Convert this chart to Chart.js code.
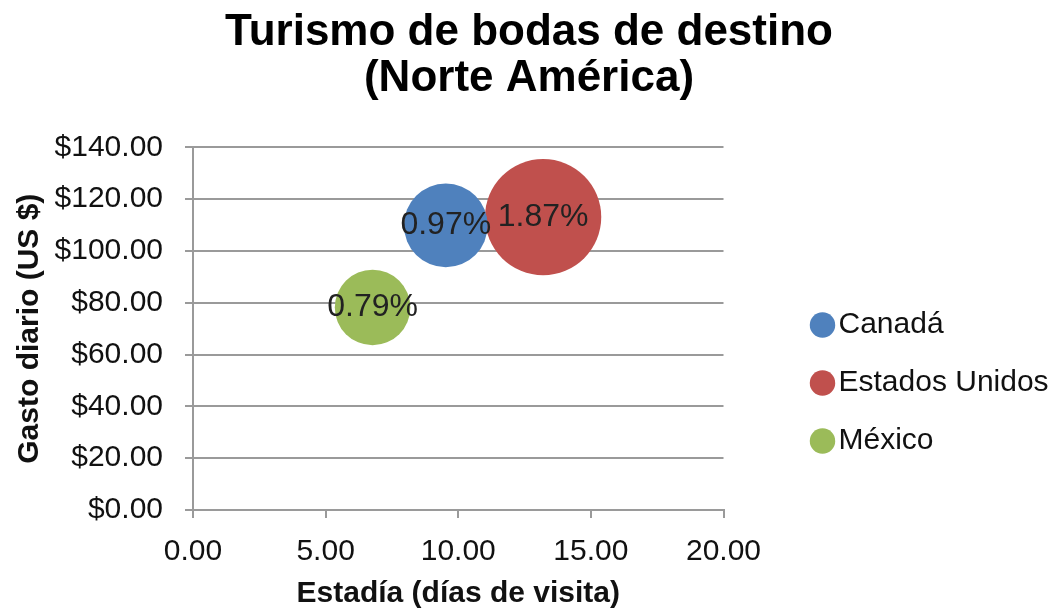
<!DOCTYPE html>
<html lang="es">
<head>
  <meta charset="UTF-8" />
  <title>Turismo de bodas de destino</title>
  <script src="https://cdn.jsdelivr.net/npm/chart.js"></script>
  <style>
    body { margin: 0; background: white; }
    #wrap { width: 1058px; height: 612px; }
  </style>
</head>
<body>
  <div id="wrap"><canvas id="bodasChart" width="1058" height="612"></canvas></div>

  <script>
    // datos
    const countries = ['Canadá', 'Estados Unidos', 'México'];
    const stayDays = [9.53, 13.2, 6.77];
    const dailySpend = [109.9, 113.1, 78.2];
    const share = [0.97, 1.87, 0.79];
    const colors = ['#4F81BD', '#C0504D', '#9BBB59'];
    const xTicks = [0, 5, 10, 15, 20];
    const yTicks = [0, 20, 40, 60, 80, 100, 120, 140];

    const BUBBLE_K = 42.5; // radio ~ raíz del valor (área)
    const FONT = "'Liberation Sans', Arial, sans-serif";
    const LEGEND_GAP = 70;

    // etiquetas de porcentaje centradas en cada burbuja
    const bubbleLabels = {
      id: 'bubbleLabels',
      afterDatasetsDraw(chart) {
        const c = chart.ctx;
        c.save();
        c.font = '32px ' + FONT;
        c.fillStyle = '#222';
        c.textAlign = 'center';
        c.textBaseline = 'middle';
        chart.data.datasets.forEach((ds, i) => {
          const pt = chart.getDatasetMeta(i).data[0];
          c.fillText(share[i].toFixed(2) + '%', pt.x, pt.y);
        });
        c.restore();
      }
    };

    // la leyenda deja un hueco a su izquierda y va algo más abajo
    const legendShift = {
      id: 'legendShift',
      afterInit(chart) {
        const lg = chart.legend;
        const fit = lg.fit.bind(lg);
        const draw = lg.draw.bind(lg);
        lg.fit = function () {
          fit();
          this.width += LEGEND_GAP;
        };
        lg.draw = function (area) {
          chart.ctx.save();
          chart.ctx.translate(LEGEND_GAP, 77);
          draw(area);
          chart.ctx.restore();
        };
      }
    };

    const ctx = document.getElementById('bodasChart').getContext('2d');
    new Chart(ctx, {
      type: 'bubble',
      data: {
        datasets: countries.map((name, i) => ({
          label: name,
          data: [{ x: stayDays[i], y: dailySpend[i], r: BUBBLE_K * Math.sqrt(share[i]) }],
          backgroundColor: colors[i],
          borderColor: colors[i],
          borderWidth: 0,
          hoverRadius: 0
        }))
      },
      options: {
        responsive: false,
        animation: false,
        layout: { padding: 0 },
        plugins: {
          tooltip: { enabled: false },
          title: {
            display: true,
            text: ['Turismo de bodas de destino', '(Norte América)'],
            color: '#000',
            font: { family: FONT, size: 44, weight: 'bold', lineHeight: 1.05 },
            padding: { top: 10, bottom: 45 }
          },
          legend: {
            position: 'right',
            labels: {
              usePointStyle: true,
              pointStyle: 'circle',
              boxWidth: 2,
              boxHeight: 18,
              padding: 28,
              color: '#111',
              font: { family: FONT, size: 30 }
            }
          }
        },
        scales: {
          x: {
            type: 'linear',
            min: 0,
            max: 20,
            afterBuildTicks: s => { s.ticks = xTicks.map(v => ({ value: v })); },
            afterFit: s => { s.height = 102; },
            ticks: {
              color: '#111',
              font: { family: FONT, size: 30 },
              padding: 16,
              maxRotation: 0,
              callback: v => v.toFixed(2)
            },
            grid: { drawOnChartArea: false, color: '#9a9a9a', lineWidth: 2, tickLength: 8 },
            border: { color: '#9a9a9a', width: 2 },
            title: {
              display: true,
              text: 'Estadía (días de visita)',
              color: '#111',
              font: { family: FONT, size: 30, weight: 'bold' },
              padding: { top: 0, bottom: 0 }
            }
          },
          y: {
            min: 0,
            max: 140,
            afterBuildTicks: s => { s.ticks = yTicks.map(v => ({ value: v })); },
            afterFit: s => { s.width = 193; },
            ticks: {
              color: '#111',
              font: { family: FONT, size: 30 },
              padding: 22,
              callback: v => '$' + v.toFixed(2)
            },
            grid: { color: '#9a9a9a', lineWidth: 2, tickLength: 8 },
            border: { color: '#9a9a9a', width: 2 },
            title: {
              display: true,
              text: 'Gasto diario (US $)',
              color: '#111',
              font: { family: FONT, size: 30, weight: 'bold' },
              padding: { top: 12, bottom: 0 }
            }
          }
        }
      },
      plugins: [bubbleLabels, legendShift]
    });
  </script>
</body>
</html>
